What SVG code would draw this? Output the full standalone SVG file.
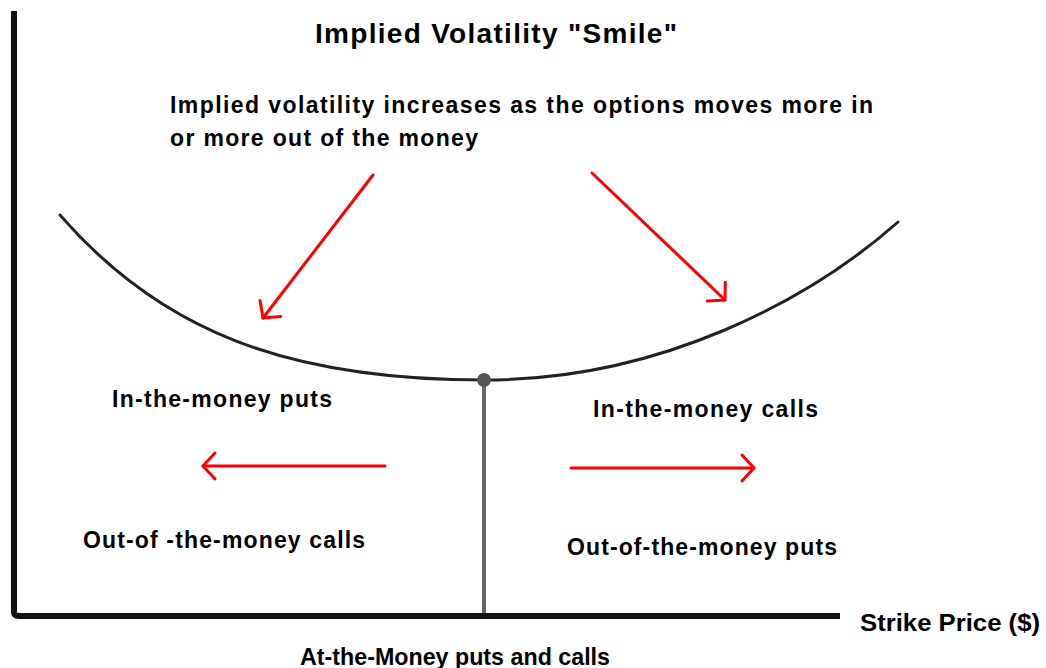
<svg xmlns="http://www.w3.org/2000/svg" width="1046" height="668" viewBox="0 0 1046 668">
<style>
.t{font-family:"Liberation Sans",Arial,Helvetica,sans-serif;font-weight:bold;fill:#000}
.lbl{font-size:23px}
.narrow{font-family:"Liberation Sans Narrow","Liberation Sans",Arial,sans-serif;font-weight:bold;font-size:24px;fill:#000}
.red{fill:none;stroke:#ff0000;stroke-width:3;stroke-linecap:round}
</style>
<defs>
<marker id="ah" markerUnits="userSpaceOnUse" markerWidth="32" markerHeight="32" viewBox="-16 -16 32 32" refX="0" refY="0" orient="auto">
<path d="M-12,-13 L0,0 L-12,13" fill="none" stroke="#ff0000" stroke-width="3" stroke-linecap="round" stroke-linejoin="round"/>
</marker>
</defs>
<rect width="1046" height="668" fill="#ffffff"/>
<g id="axes">
<path d="M14,11 V612 Q14,616 19,616 H840" fill="none" stroke="#111" stroke-width="6" stroke-linejoin="round"/>
</g>
<g id="smile-curve">
<path d="M60,215 C160,330 285,380 485,380 C660,380 810,300 898,222" fill="none" stroke="#222" stroke-width="3" stroke-linecap="round"/>
</g>
<g id="atm-line">
<line x1="484" y1="380" x2="484" y2="613" stroke="#666" stroke-width="4"/>
<circle cx="484" cy="380" r="7" fill="#555"/>
</g>
<g id="connectors">
<line class="red" x1="373" y1="175" x2="263" y2="318" marker-end="url(#ah)"/>
<line class="red" x1="592" y1="173" x2="725" y2="300" marker-end="url(#ah)"/>
<line class="red" x1="385" y1="466" x2="203" y2="466" marker-end="url(#ah)"/>
<line class="red" x1="571" y1="468" x2="754" y2="468" marker-end="url(#ah)"/>
</g>
<g id="title">
<text class="t" x="315" y="43" font-size="28" textLength="362" lengthAdjust="spacing">Implied Volatility "Smile"</text>
</g>
<g id="subtitle">
<text class="t lbl" x="170" y="113" textLength="703" lengthAdjust="spacing">Implied volatility increases as the options moves more in</text>
<text class="t lbl" x="170" y="146" textLength="308" lengthAdjust="spacing">or more out of the money</text>
</g>
<g id="itm-puts"><text class="t lbl" x="112" y="407" textLength="220" lengthAdjust="spacing">In-the-money puts</text></g>
<g id="itm-calls"><text class="t lbl" x="593" y="417" textLength="225" lengthAdjust="spacing">In-the-money calls</text></g>
<g id="otm-calls"><text class="t lbl" x="83" y="548" textLength="282" lengthAdjust="spacing">Out-of -the-money calls</text></g>
<g id="otm-puts"><text class="t lbl" x="567" y="555" textLength="270" lengthAdjust="spacing">Out-of-the-money puts</text></g>
<g id="strike-label"><text class="narrow" x="860" y="631" textLength="180" lengthAdjust="spacingAndGlyphs">Strike Price ($)</text></g>
<g id="atm-label"><text class="narrow" x="300" y="665" textLength="310" lengthAdjust="spacingAndGlyphs">At-the-Money puts and calls</text></g>
</svg>
